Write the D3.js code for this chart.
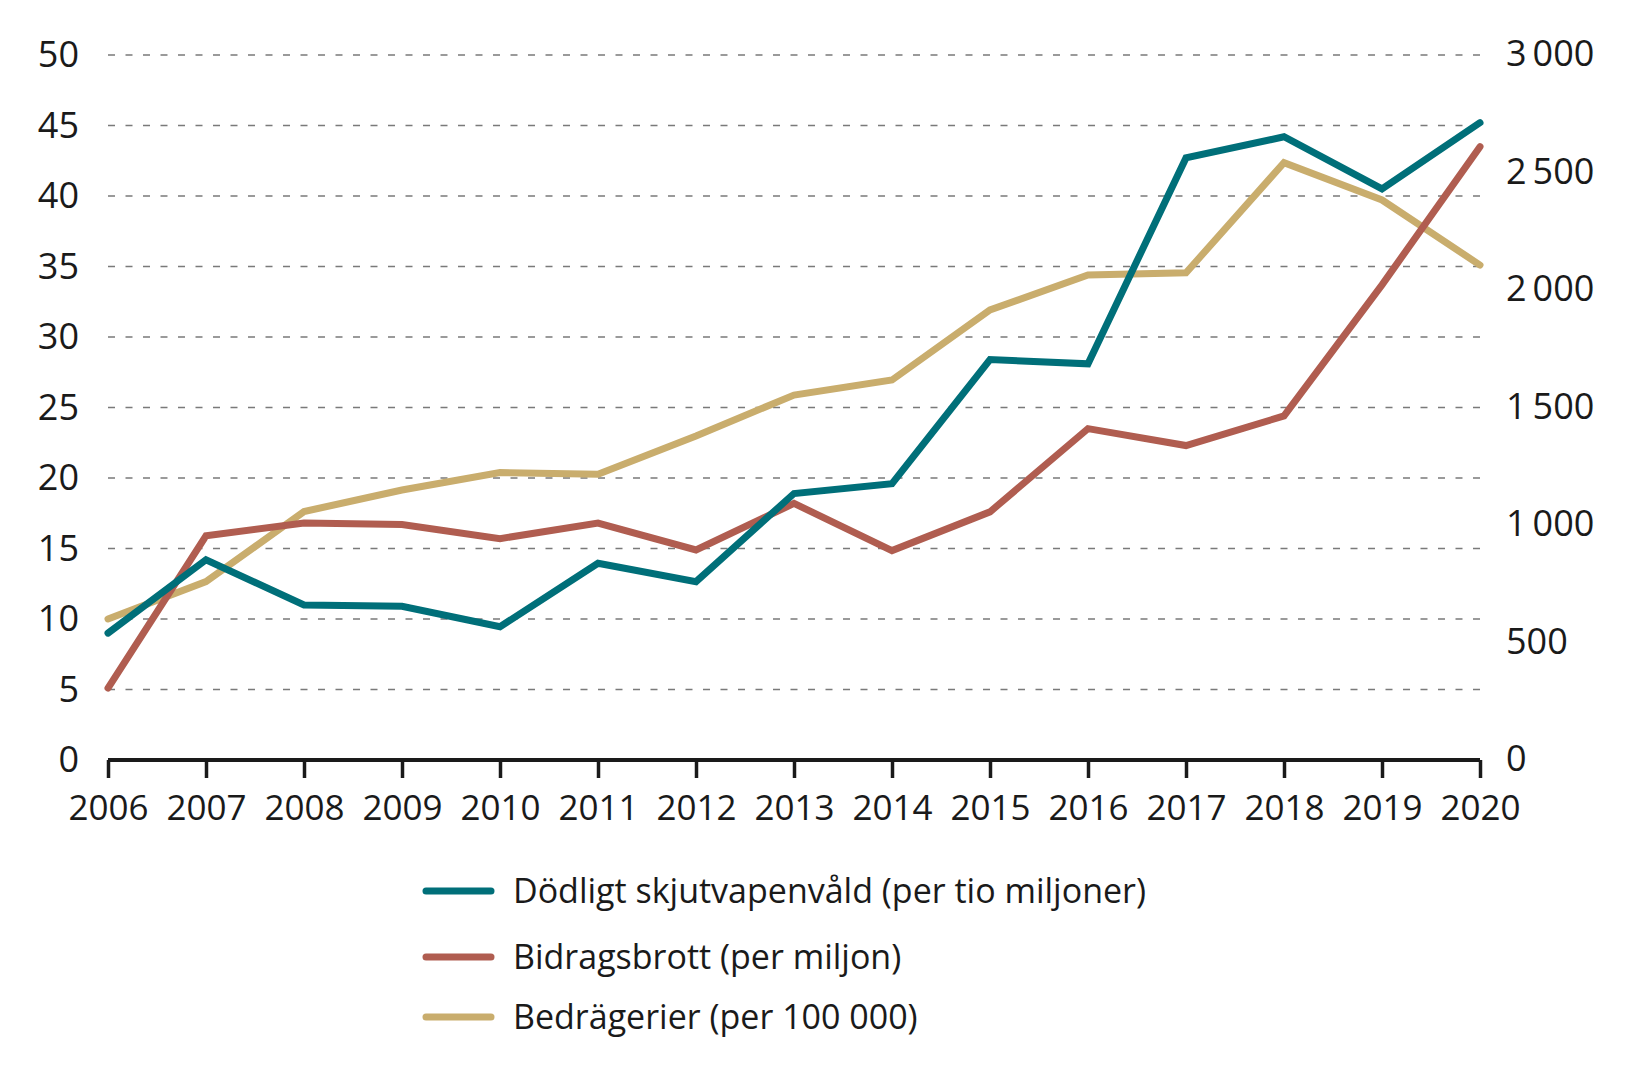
<!DOCTYPE html>
<html>
<head>
<meta charset="utf-8">
<script src="https://cdn.jsdelivr.net/npm/d3@7"></script>
<style>
  html, body { margin: 0; padding: 0; background: #fff; }
  svg { display: block; }
  text { font-family: "Open Sans", "Noto Sans", sans-serif; fill: #1a1a1a; }
</style>
</head>
<body>
<svg id="chart" width="1640" height="1070"></svg>
<script>
const years = [2006, 2007, 2008, 2009, 2010, 2011, 2012, 2013, 2014, 2015, 2016, 2017, 2018, 2019, 2020];
const skjutvapen = [9.0, 14.2, 11.0, 10.9, 9.45, 13.95, 12.65, 18.9, 19.6, 28.4, 28.1, 42.7, 44.2, 40.5, 45.2];
const bidragsbrott = [5.1, 15.9, 16.8, 16.7, 15.7, 16.8, 14.9, 18.2, 14.85, 17.6, 23.5, 22.3, 24.4, 33.7, 43.5];
const bedragerier = [600, 759, 1057, 1149, 1223, 1216, 1379, 1553, 1617, 1915, 2064, 2073, 2542, 2383, 2106];
const leftTicks = [0, 5, 10, 15, 20, 25, 30, 35, 40, 45, 50];
const rightTicks = [0, 500, 1000, 1500, 2000, 2500, 3000];
const seriesNames = ["Dödligt skjutvapenvåld (per tio miljoner)", "Bidragsbrott (per miljon)", "Bedrägerier (per 100 000)"];
const seriesColors = ["#006f79", "#b05d50", "#c9ad6d"];

const svg = d3.select("#chart");
const x = d3.scaleLinear().domain([2006, 2020]).range([108, 1480]);
const yL = d3.scaleLinear().domain([0, 50]).range([760, 55]);
const yR = d3.scaleLinear().domain([0, 3000]).range([760, 55]);

// gridlines
svg.append("g").selectAll("line")
  .data(leftTicks.filter(d => d > 0))
  .join("line")
  .attr("x1", 108).attr("x2", 1480)
  .attr("y1", d => yL(d)).attr("y2", d => yL(d))
  .attr("stroke", "#7a7a7a").attr("stroke-width", 1.6)
  .attr("stroke-dasharray", "7,10.5");

const fsAxis = 36;
const fsX = 35;
const fsLeg = 34;

// left axis labels
const gl = svg.append("g")
  .attr("transform", "translate(79,0)")
  .call(d3.axisLeft(yL).tickValues(leftTicks).tickSize(0).tickPadding(0));
gl.select(".domain").remove();
gl.selectAll("text").attr("font-size", fsAxis).attr("font-family", "Open Sans").attr("fill", "#1a1a1a").attr("dy", "0.33em");

// right axis labels
const fmt = d => d3.format(",")(d).replace(/,/g, "\u2009");
const gr = svg.append("g")
  .attr("transform", "translate(1506,0)")
  .call(d3.axisRight(yR).tickValues(rightTicks).tickSize(0).tickPadding(0).tickFormat(fmt));
gr.select(".domain").remove();
gr.selectAll("text").attr("font-size", fsAxis).attr("font-family", "Open Sans").attr("fill", "#1a1a1a").attr("dy", "0.3em");

// x axis
const gx = svg.append("g")
  .attr("transform", "translate(0,760)")
  .call(d3.axisBottom(x).tickValues(years).tickFormat(d3.format("d")).tickSize(18).tickPadding(17).tickSizeOuter(0));
gx.select(".domain").attr("stroke", "#1a1a1a").attr("stroke-width", 4).attr("d", "M108,0H1480");
gx.selectAll(".tick line").attr("stroke", "#1a1a1a").attr("stroke-width", 3.5);
gx.selectAll("text").attr("font-size", fsX).attr("font-family", "Open Sans").attr("fill", "#1a1a1a");

// lines
const lineL = d3.line().x((d, i) => x(years[i])).y(d => yL(d));
const lineR = d3.line().x((d, i) => x(years[i])).y(d => yR(d));
const seriesPaths = [
  { data: skjutvapen, gen: lineL },
  { data: bidragsbrott, gen: lineL },
  { data: bedragerier, gen: lineR }
];
[2, 1, 0].forEach(i => {
  svg.append("path")
    .attr("d", seriesPaths[i].gen(seriesPaths[i].data))
    .attr("fill", "none")
    .attr("stroke", seriesColors[i])
    .attr("stroke-width", 7)
    .attr("stroke-linejoin", "miter")
    .attr("stroke-linecap", "round");
});

// legend
const legY = [891, 957, 1017];
const leg = svg.append("g");
seriesNames.forEach((name, i) => {
  leg.append("line")
    .attr("x1", 426).attr("x2", 491)
    .attr("y1", legY[i]).attr("y2", legY[i])
    .attr("stroke", seriesColors[i]).attr("stroke-width", 7).attr("stroke-linecap", "round");
  leg.append("text")
    .attr("x", 513).attr("y", legY[i]).attr("dy", "0.35em")
    .attr("font-size", fsLeg).text(name);
});
</script>
</body>
</html>
